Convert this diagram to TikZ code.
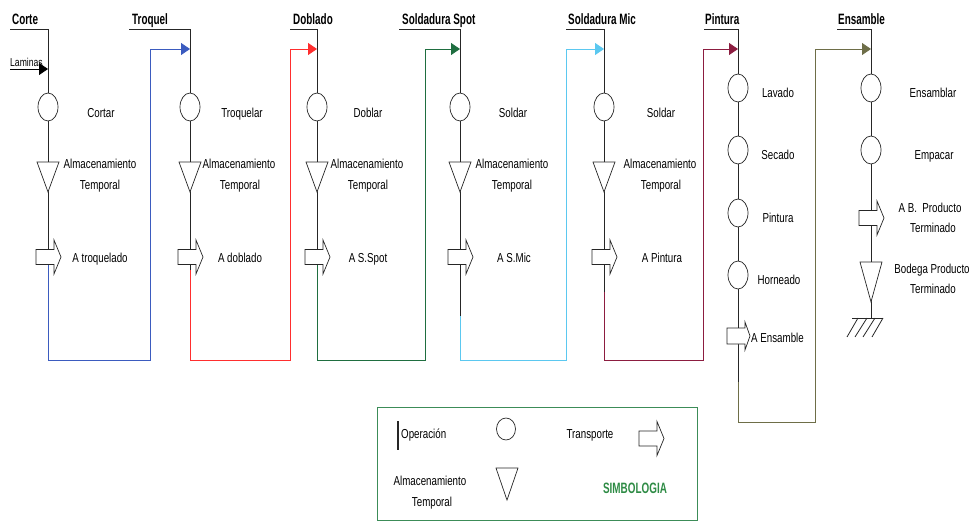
\documentclass[tikz,border=0pt]{standalone}
\usepackage{fontspec}
\setmainfont{Liberation Sans}[FakeStretch=0.75]
\newfontfamily\titlefont{Liberation Sans}[FakeStretch=0.66]
\usetikzlibrary{arrows.meta,shapes.geometric}
\definecolor{cblue}{HTML}{3B5BBF}
\definecolor{cred}{HTML}{FF2E2E}
\definecolor{cgreen}{HTML}{1F6E40}
\definecolor{clblue}{HTML}{5BC8F0}
\definecolor{cmaroon}{HTML}{8C1D40}
\definecolor{colive}{HTML}{6E6E48}
\definecolor{cleg}{HTML}{3C8C58}
\definecolor{csimb}{HTML}{2E8B45}
\tikzset{
  colline/.style={draw=black!85, line width=0.8pt},
  flow/.style={line width=0.9pt, -{Triangle[length=9pt,width=12pt]}},
  shapeline/.style={draw=black!85, fill=white, line width=0.7pt},
  opnode/.style={ellipse, draw=black!85, fill=white, line width=0.7pt, minimum width=20pt, minimum height=28pt, inner sep=0pt},
  lbl/.style={font=\fontsize{13}{15}\selectfont, anchor=base, inner sep=0pt},
  ttl/.style={font=\titlefont\bfseries\fontsize{15}{17}\selectfont, anchor=base west, inner sep=0pt},
  storage/.pic={\draw[shapeline] (-11,0) -- (11,0) -- (0,30) -- cycle;},
  transp/.pic={\draw[shapeline] (-12,-7.5) -- (6,-7.5) -- (6,-17) -- (13,0) -- (6,17) -- (6,7.5) -- (-12,7.5) -- cycle;},
  transpsmall/.pic={\draw[shapeline] (-11,-8) -- (7,-8) -- (7,-14) -- (12,0) -- (7,14) -- (7,8) -- (-11,8) -- cycle;}
}
\begin{document}
\begin{tikzpicture}[x=1pt,y=-1pt]
\useasboundingbox (0,0) rectangle (975,522);

% ---------- titles and column coordinates ----------
\node[ttl] (t1) at (12,24) {Corte};
\node[ttl] (t2) at (132,24) {Troquel};
\node[ttl] (t3) at (293,24) {Doblado};
\node[ttl] (t4) at (402,24) {Soldadura Spot};
\node[ttl] (t5) at (568,24) {Soldadura Mic};
\node[ttl] (t6) at (705,24) {Pintura};
\node[ttl] (t7) at (838,24) {Ensamble};

\coordinate (u1) at (10,29);  \coordinate (top1) at (48,29);
\coordinate (u2) at (129,29); \coordinate (top2) at (190,29);
\coordinate (u3) at (290,29); \coordinate (top3) at (317,29);
\coordinate (u4) at (399,29); \coordinate (top4) at (460,29);
\coordinate (u5) at (566,29); \coordinate (top5) at (604,29);
\coordinate (u6) at (704,29); \coordinate (top6) at (738,29);
\coordinate (u7) at (837,29); \coordinate (top7) at (871,29);

% split points where coloured connectors begin
\coordinate (s1) at (48,265);
\coordinate (s2) at (190,270);
\coordinate (s3) at (317,265);
\coordinate (s4) at (460,316);
\coordinate (s5) at (604,292);
\coordinate (s6) at (738,382);
\coordinate (g7) at (871,318);

% entry points
\coordinate (in1) at (48,69);
\coordinate (in2) at (190,49);
\coordinate (in3) at (317,49);
\coordinate (in4) at (460,49);
\coordinate (in5) at (604,49);
\coordinate (in6) at (738,49);
\coordinate (in7) at (871,49);

% bottom corners of connectors
\coordinate (b1) at (150,360);
\coordinate (b2) at (290,360);
\coordinate (b3) at (425,360);
\coordinate (b4) at (566,360);
\coordinate (b5) at (703,360);
\coordinate (b6) at (815,422);

% ---------- column lines ----------
\draw[colline] (u1) -- (top1) -- (s1);
\draw[colline] (u2) -- (top2) -- (s2);
\draw[colline] (u3) -- (top3) -- (s3);
\draw[colline] (u4) -- (top4) -- (s4);
\draw[colline] (u5) -- (top5) -- (s5);
\draw[colline] (u6) -- (top6) -- (s6);
\draw[colline] (u7) -- (top7) -- (g7);

% ---------- coloured connectors ----------
\coordinate (lam) at (10,69);
\draw[flow, black] (lam) -- (in1);
\node[font=\fontsize{11.5}{13}\selectfont, anchor=base west, inner sep=0pt] (laminas) at (10,66) {Laminas};
\draw[flow, cblue]   (s1) |- (b1) |- (in2);
\draw[flow, cred]    (s2) |- (b2) |- (in3);
\draw[flow, cgreen]  (s3) |- (b3) |- (in4);
\draw[flow, clblue]  (s4) |- (b4) |- (in5);
\draw[flow, cmaroon] (s5) |- (b5) |- (in6);
\draw[flow, colive]  (s6) |- (b6) |- (in7);

% ---------- columns 1-5 ----------
\foreach \i/\x in {1/48,2/190,3/317,4/460,5/604}{
  \node[opnode] (op\i) at (\x,107) {};
  \pic (st\i) at (\x,162) {storage};
  \pic (tr\i) at (\x,257) {transp};
}
\node[lbl] (l1a) at (101,117) {Cortar};
\node[lbl] (l1b) at (100,168) {Almacenamiento};
\node[lbl] (l1c) at (100,189) {Temporal};
\node[lbl] (l1d) at (100,262) {A troquelado};

\node[lbl] (l2a) at (242,117) {Troquelar};
\node[lbl] (l2b) at (239,168) {Almacenamiento};
\node[lbl] (l2c) at (240,189) {Temporal};
\node[lbl] (l2d) at (240,262) {A doblado};

\node[lbl] (l3a) at (368,117) {Doblar};
\node[lbl] (l3b) at (367,168) {Almacenamiento};
\node[lbl] (l3c) at (368,189) {Temporal};
\node[lbl] (l3d) at (368,262) {A S.Spot};

\node[lbl] (l4a) at (513,117) {Soldar};
\node[lbl] (l4b) at (512,168) {Almacenamiento};
\node[lbl] (l4c) at (512,189) {Temporal};
\node[lbl] (l4d) at (514,262) {A S.Mic};

\node[lbl] (l5a) at (661,117) {Soldar};
\node[lbl] (l5b) at (660,168) {Almacenamiento};
\node[lbl] (l5c) at (661,189) {Temporal};
\node[lbl] (l5d) at (662,262) {A Pintura};

% ---------- Pintura ----------
\node[opnode] (op6a) at (738,88) {};
\node[opnode] (op6b) at (738,150) {};
\node[opnode] (op6c) at (738,213) {};
\node[opnode] (op6d) at (738,275) {};
\pic (tr6) at (738,336) {transpsmall};
\node[lbl] (l6a) at (778,97) {Lavado};
\node[lbl] (l6b) at (778,159) {Secado};
\node[lbl] (l6c) at (778,222) {Pintura};
\node[lbl] (l6d) at (779,284) {Horneado};
\node[lbl, anchor=base west] (l6e) at (751,342) {A Ensamble};

% ---------- Ensamble ----------
\node[opnode] (op7a) at (871,88) {};
\node[opnode] (op7b) at (871,150) {};
\pic (tr7) at (871,218) {transp};
\pic[yscale=1.33] (st7) at (871,262) {storage};
\node[lbl] (l7a) at (933,97) {Ensamblar};
\node[lbl] (l7b) at (934,159) {Empacar};
\node[lbl] (l7c) at (930,212) {A B.~ Producto};
\node[lbl] (l7d) at (933,232) {Terminado};
\node[lbl] (l7e) at (932,273) {Bodega Producto};
\node[lbl] (l7f) at (933,293) {Terminado};

% ground symbol
\coordinate (gl) at (852,318); \coordinate (gr) at (883,318);
\draw[colline] (gl) -- (gr);
\foreach \a/\b in {858/847,867/855,875/863,883/872}{
  \draw[colline] (\a,318) -- (\b,337);
}

% ---------- legend ----------
\node[draw=cleg, line width=0.8pt, minimum width=320pt, minimum height=113pt, inner sep=0pt, anchor=north west] (legend) at (377,407) {};
\coordinate (opA) at (398,421); \coordinate (opB) at (398,450);
\draw[line width=1.8pt, black!85] (opA) -- (opB);
\node[lbl, anchor=base west] (lgop) at (401,438) {Operación};
\node[opnode, minimum width=19pt, minimum height=22pt] (lgcirc) at (506,429) {};
\node[lbl] (lgtr) at (590,438) {Transporte};
\pic (lgtrs) at (651,438.5) {transp};
\node[lbl] (lgal) at (430,485) {Almacenamiento};
\node[lbl] (lgte) at (432,506) {Temporal};
\pic[yscale=1.07] (lgst) at (507,468) {storage};
\node[font=\titlefont\bfseries\fontsize{15}{17}\selectfont, text=csimb, anchor=base, inner sep=0pt] (simb) at (635,493) {SIMBOLOGIA};
\end{tikzpicture}
\end{document}
